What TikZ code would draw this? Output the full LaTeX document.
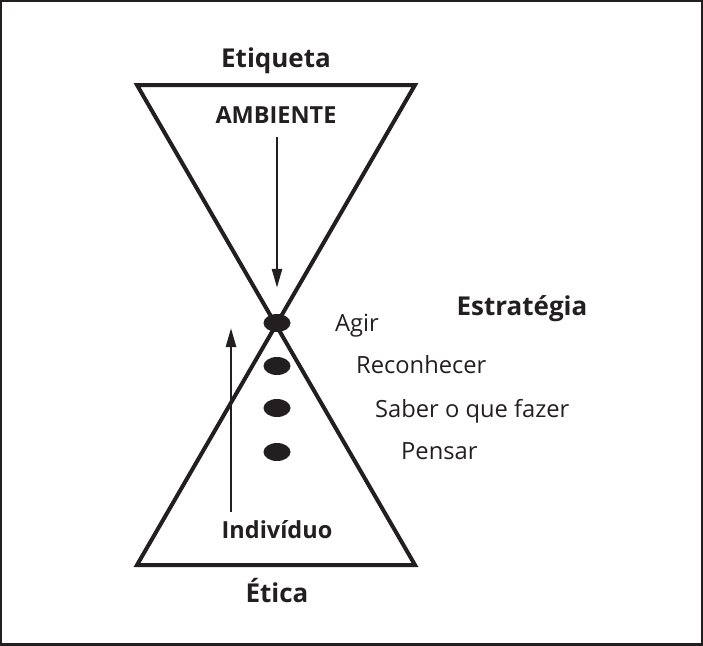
\documentclass[tikz,border=0pt]{standalone}
\usepackage{fontspec}
\setmainfont{Open Sans}
\usetikzlibrary{arrows.meta,positioning,shapes.geometric}
\definecolor{ink}{HTML}{231F20}
\tikzset{
>={Triangle[length=19pt,width=10pt]},
x=1pt, y=-1pt,
glass/.style={draw=ink,line width=4pt,line join=miter},
flow/.style={->,draw=ink,line width=2.6pt},
dot/.style={ellipse,fill=ink,inner sep=0pt,minimum width=27pt,minimum height=18pt},
title/.style={text=ink,inner sep=0pt,anchor=base,font=\bfseries\fontsize{26}{29}\selectfont},
head/.style={text=ink,inner sep=0pt,anchor=base,font=\bfseries\fontsize{23.5}{26}\selectfont},
step label/.style={text=ink,inner sep=0pt,anchor=base west,font=\fontsize{23.7}{26}\selectfont}
}
\begin{document}
\begin{tikzpicture}
\useasboundingbox (0,0) rectangle (703,645);
\draw[ink,line width=4pt] (0,0) rectangle (703,645);

% hourglass
\coordinate (tl) at (137,85);
\coordinate (tr) at (415,85);
\coordinate (bl) at (137,565);
\coordinate (br) at (415,565);
\draw[glass] (tl) -- (tr) -- (bl) -- (br) -- cycle;

\node[title] (etiqueta)   at (276,67)  {Etiqueta};
\node[head]  (ambiente)   at (276,123) {AMBIENTE};
\node[title] (estrategia) at (522,315) {Estratégia};
\node[head]  (individuo)  at (277,538) {Indivíduo};
\node[title] (etica)      at (277,602) {Ética};

\foreach \y/\n in {323/agir,366/recon,408/saber,452/pensar}
  \node[dot] (dot\n) at (277,\y) {};

\node[step label] (agir)   at (335,331) {Agir};
\node[step label] (recon)  at (356,373) {Reconhecer};
\node[step label] (saber)  at (375,417) {Saber o que fazer};
\node[step label] (pensar) at (401,459) {Pensar};

\draw[flow,shorten <=14pt,shorten >=26pt] (ambiente.south -| dotagir) -- (dotagir);
\coordinate (rise) at (231,328);
\draw[flow,shorten <=8pt] (rise |- individuo.north) -- (rise);
\end{tikzpicture}
\end{document}
